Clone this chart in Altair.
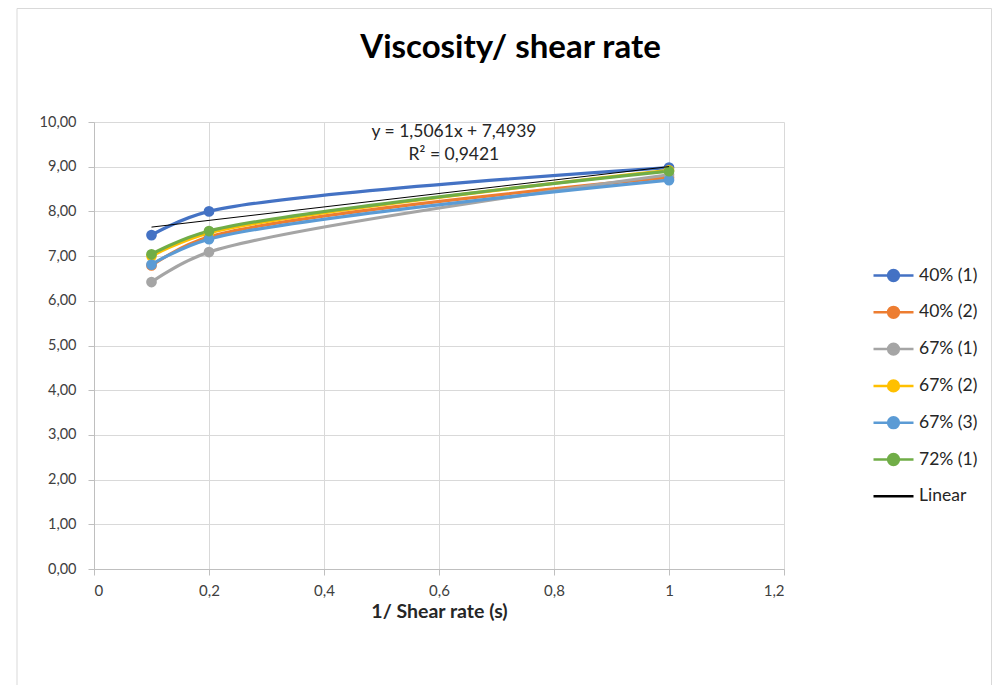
import altair as alt
import pandas as pd

# ---- data ----
x_vals = [0.1, 0.2, 1.0]
series_names = ["40% (1)", "40% (2)", "67% (1)", "67% (2)", "67% (3)", "72% (1)"]
s40_1 = [7.47, 8.00, 8.98]
s40_2 = [6.79, 7.43, 8.76]
s67_1 = [6.42, 7.09, 8.82]
s67_2 = [7.00, 7.52, 8.92]
s67_3 = [6.81, 7.38, 8.70]
s72_1 = [7.04, 7.56, 8.90]
series_values = [s40_1, s40_2, s67_1, s67_2, s67_3, s72_1]
colors = ["#4472C4", "#ED7D31", "#A5A5A5", "#FFC000", "#5B9BD5", "#70AD47"]

title_text = "Viscosity/ shear rate"
eq_text = ["y = 1,5061x + 7,4939", "R² = 0,9421"]
eq_x = [0.626, 0.626]
eq_y = [9.78, 9.26]

rows = []
for name, vals in zip(series_names, series_values):
    for i, (xv, yv) in enumerate(zip(x_vals, vals)):
        rows.append({"series": name, "x": xv, "y": yv, "order": i})
df = pd.DataFrame(rows)
eq_df = pd.DataFrame({"text": eq_text, "x": eq_x, "y": eq_y})

legend_domain = series_names + ["Linear"]
legend_colors = colors + ["#000000"]
marker_path = ("M-1,0L1,0M-0.27,0A0.27,0.27,0,1,0,0.27,0"
               "A0.27,0.27,0,1,0,-0.27,0Z")
line_path = "M-1,0L1,0"
legend_shapes = [marker_path] * 6 + [line_path]
legend_widths = [2.5] * 6 + [1]

FONT = "Lato"

xscale = alt.Scale(domain=[0, 1.2], nice=False, zero=False)
yscale = alt.Scale(domain=[0, 10], nice=False)
color_scale = alt.Scale(domain=series_names, range=colors)

xaxis = alt.Axis(
    title="1/ Shear rate (s)", values=[0, 0.2, 0.4, 0.6, 0.8, 1.0, 1.2],
    labelExpr="replace(format(datum.value, '.1~f'), '.', ',')",
    grid=True, gridColor="#d9d9d9", gridWidth=1,
    domainColor="#bfbfbf", tickColor="#bfbfbf", tickSize=6,
    labelFont=FONT, labelFontSize=15, labelColor="#404040", labelPadding=8,
    titleFont=FONT, titleFontSize=19.5, titleFontWeight="bold", titleColor="#262626",
    titlePadding=4,
)
yaxis = alt.Axis(
    title=None, values=list(range(0, 11)),
    labelExpr="replace(format(datum.value, '.2f'), '.', ',')",
    grid=True, gridColor="#d9d9d9", gridWidth=1,
    domainColor="#bfbfbf", tickColor="#bfbfbf", tickSize=6,
    labelFont=FONT, labelFontSize=14.5, labelColor="#404040", labelPadding=12,
)

base = alt.Chart(df)

frame = alt.Chart(pd.DataFrame({"a": [0]})).mark_rect(
    filled=False, stroke="#d9d9d9", strokeWidth=1
).encode(
    x=alt.value(-77), x2=alt.value(897.5), y=alt.value(-113.5), y2=alt.value(600)
)

title = alt.Chart(pd.DataFrame({"t": [title_text]})).mark_text(
    font=FONT, fontSize=33, fontWeight="bold", color="#000000",
    align="center", baseline="middle"
).encode(x=alt.value(416.5), y=alt.value(-74), text="t:N")

lines = base.mark_line(interpolate="catmull-rom", strokeWidth=3.2).encode(
    x=alt.X("x:Q", scale=xscale, axis=xaxis),
    y=alt.Y("y:Q", scale=yscale, axis=yaxis),
    color=alt.Color("series:N", scale=color_scale, legend=None),
    order="order:Q",
)

points = base.mark_point(filled=True, size=115, opacity=1).encode(
    x="x:Q", y="y:Q",
    color=alt.Color("series:N", scale=color_scale, legend=None),
)

trend = base.transform_filter(alt.datum.series == "40% (1)").transform_regression(
    "x", "y", extent=[0.1, 1.0]
).mark_line(color="black", strokeWidth=1).encode(x="x:Q", y="y:Q")

eq = alt.Chart(eq_df).mark_text(
    font=FONT, fontSize=17.5, color="#262626", align="center", baseline="middle"
).encode(x="x:Q", y="y:Q", text="text:N")

leg = alt.Legend(title=None)
legend_layer = base.transform_filter("false").mark_point(filled=True, opacity=1).encode(
    x="x:Q", y="y:Q",
    fill=alt.Fill("series:N", scale=alt.Scale(domain=legend_domain, range=legend_colors), legend=leg),
    stroke=alt.Stroke("series:N", scale=alt.Scale(domain=legend_domain, range=legend_colors), legend=leg),
    shape=alt.Shape("series:N", scale=alt.Scale(domain=legend_domain, range=legend_shapes), legend=leg),
    strokeWidth=alt.StrokeWidth("series:N", scale=alt.Scale(domain=legend_domain, range=legend_widths), legend=leg),
)

chart = alt.layer(frame, title, lines, points, trend, eq, legend_layer).properties(
    width=690, height=447,
    autosize=alt.AutoSizeParams(type="none"),
    padding={"left": 86, "top": 114, "right": 208, "bottom": 116},
).configure_view(stroke=None).configure_legend(
    orient="none", legendX=778, legendY=132, symbolSize=1600,
    labelFont=FONT, labelFontSize=17.5, labelColor="#262626",
    rowPadding=4.8, labelOffset=4,
)

chart.save("out.html", embed_options={"renderer": "svg", "actions": False})
